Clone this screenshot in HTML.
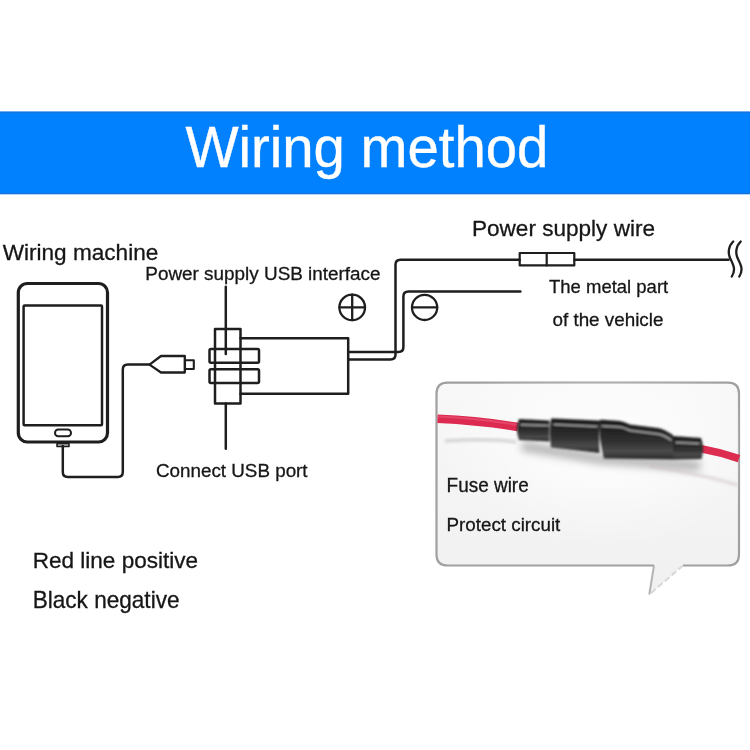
<!DOCTYPE html>
<html><head><meta charset="utf-8">
<style>
html,body{margin:0;padding:0;background:#fff;}
body{width:750px;height:750px;overflow:hidden;position:relative;}
svg{position:absolute;left:0;top:0;will-change:transform;}
text{font-family:"Liberation Sans",sans-serif;}
</style></head>
<body>
<svg width="750" height="750" viewBox="0 0 750 750">
<defs>
  <linearGradient id="bubL" x1="0" y1="0" x2="0" y2="1">
    <stop offset="0" stop-color="#f8f8f8"/>
    <stop offset="0.5" stop-color="#f4f4f4"/>
    <stop offset="1" stop-color="#f0f0f0"/>
  </linearGradient>
  <radialGradient id="bubR" cx="0.55" cy="0.35" r="0.55">
    <stop offset="0" stop-color="#ffffff" stop-opacity="0.9"/>
    <stop offset="1" stop-color="#ffffff" stop-opacity="0"/>
  </radialGradient>
  <linearGradient id="fuse" x1="0" y1="0" x2="0" y2="1">
    <stop offset="0" stop-color="#1c1c1c"/>
    <stop offset="0.35" stop-color="#262626"/>
    <stop offset="0.6" stop-color="#343434"/>
    <stop offset="0.8" stop-color="#4c4c4c"/>
    <stop offset="0.93" stop-color="#353535"/>
    <stop offset="1" stop-color="#232323"/>
  </linearGradient>
  <filter id="blur" x="-20%" y="-100%" width="140%" height="300%"><feGaussianBlur stdDeviation="4"/></filter>
  <filter id="photo" x="-10%" y="-30%" width="120%" height="160%"><feGaussianBlur stdDeviation="0.8"/></filter>
  <filter id="blur2" x="-20%" y="-100%" width="140%" height="300%"><feGaussianBlur stdDeviation="1.5"/></filter>
</defs>

<!-- banner -->
<rect x="0" y="111.6" width="750" height="82.6" fill="#0281fe"/>
<rect x="0" y="111.6" width="750" height="1.4" fill="#1c6fd6" opacity="0.8"/>
<rect x="0" y="192.8" width="750" height="1.4" fill="#1c6fd6" opacity="0.8"/>
<text x="185.4" y="167.0" font-size="57.8" fill="#fff" stroke="#fff" stroke-width="0.4" textLength="363" lengthAdjust="spacingAndGlyphs">Wiring method</text>

<g fill="#161616" stroke="#161616" stroke-width="0.3">
<text x="2.7" y="259.7" font-size="22.3" textLength="155.6" lengthAdjust="spacingAndGlyphs">Wiring machine</text>
<text x="145.3" y="279.8" font-size="19.1" textLength="235.3" lengthAdjust="spacingAndGlyphs">Power supply USB interface</text>
<text x="472" y="235.5" font-size="22.7" textLength="183" lengthAdjust="spacingAndGlyphs">Power supply wire</text>
<text x="549" y="293.2" font-size="18.6" textLength="119.2" lengthAdjust="spacingAndGlyphs">The metal part</text>
<text x="552.5" y="326.0" font-size="18.5" textLength="110.9" lengthAdjust="spacingAndGlyphs">of the vehicle</text>
<text x="156" y="476.5" font-size="18.9" textLength="151.6" lengthAdjust="spacingAndGlyphs">Connect USB port</text>
<text x="32.7" y="568.2" font-size="22.5" textLength="165.4" lengthAdjust="spacingAndGlyphs">Red line positive</text>
<text x="32.7" y="607.6" font-size="23.2" textLength="146.8" lengthAdjust="spacingAndGlyphs">Black negative</text>
</g>

<g fill="none" stroke="#1e1e1e" stroke-linejoin="round" stroke-linecap="round">
  <!-- phone -->
  <rect x="18.3" y="283.5" width="89.2" height="158.5" rx="9" stroke-width="3.2"/>
  <rect x="23.6" y="305.5" width="78.4" height="119.8" rx="1" stroke-width="2.5"/>
  <rect x="55" y="429.6" width="16" height="6.6" rx="3.3" stroke-width="2"/>
  <rect x="57" y="443.8" width="12" height="2.6" stroke-width="1.6"/>
  <path d="M62.8 446 V472 Q62.8 477 67.8 477 H117.8 Q122.8 477 122.8 472 V369.6 Q122.8 364.6 127.8 364.6 H149.2" stroke-width="2.5"/>
  <path d="M149.5 364.6 L161 356 H184.8 V372.5 H161 Z" stroke-width="2.3"/>
  <rect x="185" y="360.2" width="8.8" height="8.8" stroke-width="2.1"/>

  <!-- usb interface -->
  <path d="M225.8 286.7 V354" stroke-width="2.5"/>
  <path d="M225.8 403.5 V448.7" stroke-width="2.5"/>
  <rect x="215" y="329" width="25.5" height="74.5" stroke-width="2.5"/>
  <rect x="209.5" y="349" width="49.5" height="13.8" rx="1.5" stroke-width="2.5"/>
  <rect x="209.5" y="369.2" width="49.5" height="13.8" rx="1.5" stroke-width="2.5"/>
  <path d="M240.5 338.2 H348.2 V393.7 H240.5" stroke-width="2.5"/>

  <!-- wires -->
  <path d="M348.2 359.5 H390.5 Q395.5 359.5 395.5 354.5 V264.7 Q395.5 259.7 400.5 259.7 H519.7 M574.3 259.7 H728.5" stroke-width="2.5"/>
  <path d="M348.2 352 H398.4 Q403.4 352 403.4 347 V296.5 Q403.4 291.5 408.4 291.5 H520.4" stroke-width="2.5"/>
  <!-- fuse symbol -->
  <rect x="519.7" y="253" width="54.6" height="12.4" stroke-width="2.2"/>
  <path d="M546.7 253 V265.4" stroke-width="2.2"/>
  <!-- break squiggles -->
  <path d="M733.2 241.5 C728.5 246 727.5 253 730.5 259 C733.5 265 736 270 731.8 276.5" stroke-width="2.3"/>
  <path d="M740.7 241.5 C736 246 735 253 738 259 C741 265 743.5 270 739.3 276.5" stroke-width="2.3"/>

  <!-- plus / minus -->
  <circle cx="352.2" cy="307.4" r="12.8" stroke-width="2.3"/>
  <path d="M339.4 307.4 H365 M352.2 294.6 V320.2" stroke-width="2.3"/>
  <circle cx="424.6" cy="307.4" r="12.6" stroke-width="2.3"/>
  <path d="M412 307.4 H437.2" stroke-width="2.3"/>
</g>

<!-- speech bubble -->
<path d="M447.5 382.6 H728 Q739 382.6 739 393.6 V554.5 Q739 565.5 728 565.5 H683 L649 595 L654 565.5 H447.5 Q436.5 565.5 436.5 554.5 V393.6 Q436.5 382.6 447.5 382.6 Z" fill="url(#bubL)" stroke="none"/>
<path d="M683 565.5 H728 Q739 565.5 739 554.5 V393.6 Q739 382.6 728 382.6 H447.5 Q436.5 382.6 436.5 393.6 V554.5 Q436.5 565.5 447.5 565.5 H654" fill="none" stroke="#a0a0a0" stroke-width="2.2"/>
<path d="M654 565.5 L649.3 594.5" fill="none" stroke="#b4b4b4" stroke-width="2"/>
<path d="M683 565.5 L649.3 594.5" fill="none" stroke="#d8d8d8" stroke-width="2" stroke-dasharray="6 3"/>
<path d="M447.5 382.6 H728 Q739 382.6 739 393.6 V554.5 Q739 565.5 728 565.5 H447.5 Q436.5 565.5 436.5 554.5 V393.6 Q436.5 382.6 447.5 382.6 Z" fill="url(#bubR)" stroke="none"/>

<!-- shadows -->
<path d="M445 441 Q490 438 516 442" fill="none" stroke="#b5b5b5" stroke-width="3" opacity="0.6" filter="url(#blur2)"/>
<path d="M522 446 L600 459 L700 466" fill="none" stroke="#7a7a7a" stroke-width="9" opacity="0.6" filter="url(#blur)"/>

<path d="M650 466 Q700 474 738 485" fill="none" stroke="#c8b8bc" stroke-width="3" opacity="0.5" filter="url(#blur2)"/>
<!-- red wires -->
<path d="M437.5 418.8 Q480 420.8 518 427" fill="none" stroke="#dd2a50" stroke-width="8.4"/>
<path d="M437.5 416.5 Q480 418.5 518 425" fill="none" stroke="#ea5a7a" stroke-width="2" opacity="0.6"/>
<path d="M701 448.7 Q720 452 739 458.7" fill="none" stroke="#dc2c50" stroke-width="7.6"/>

<!-- fuse body -->
<g filter="url(#photo)">
<g fill="url(#fuse)">
  <path d="M519 419 L549.5 420.5 L549.5 441.5 L519 440 Q515 429.5 519 419 Z"/>
  <path d="M551 419 Q552 418 554 418.5 L599 420.5 L599.5 453 L551 447.5 Q549 433 551 419 Z"/>
  <path d="M599 420.5 Q600 419.5 603 419.8 L620 421 Q624 421.5 630 424.5 L658 428 Q664 429 673 435 L673 459.5 L604 458.5 Q599 440 599 420.5 Z"/>
  <path d="M673 436 L701 438 Q705 448.5 701.5 459 L673 459.5 Z"/>
</g>
<g fill="none" stroke="#cfcfcf" stroke-width="1.5" opacity="0.8" stroke-linejoin="round" stroke-linecap="round">
  <path d="M521 424.8 L548 425.5"/>
  <path d="M554 424.5 L597 426.5"/>
  <path d="M602 426 L620 427 Q624 427.5 630 430.5 L658 434 Q664 435 671 440"/>
  <path d="M676 442.5 L699 443.5"/>
</g>
</g>

<g fill="#161616" stroke="#161616" stroke-width="0.3">
<text x="446.6" y="491.6" font-size="19.4" textLength="82.1" lengthAdjust="spacingAndGlyphs">Fuse wire</text>
<text x="446.6" y="531.0" font-size="19.1" textLength="113.7" lengthAdjust="spacingAndGlyphs">Protect circuit</text>
</g>
</svg>
</body></html>
